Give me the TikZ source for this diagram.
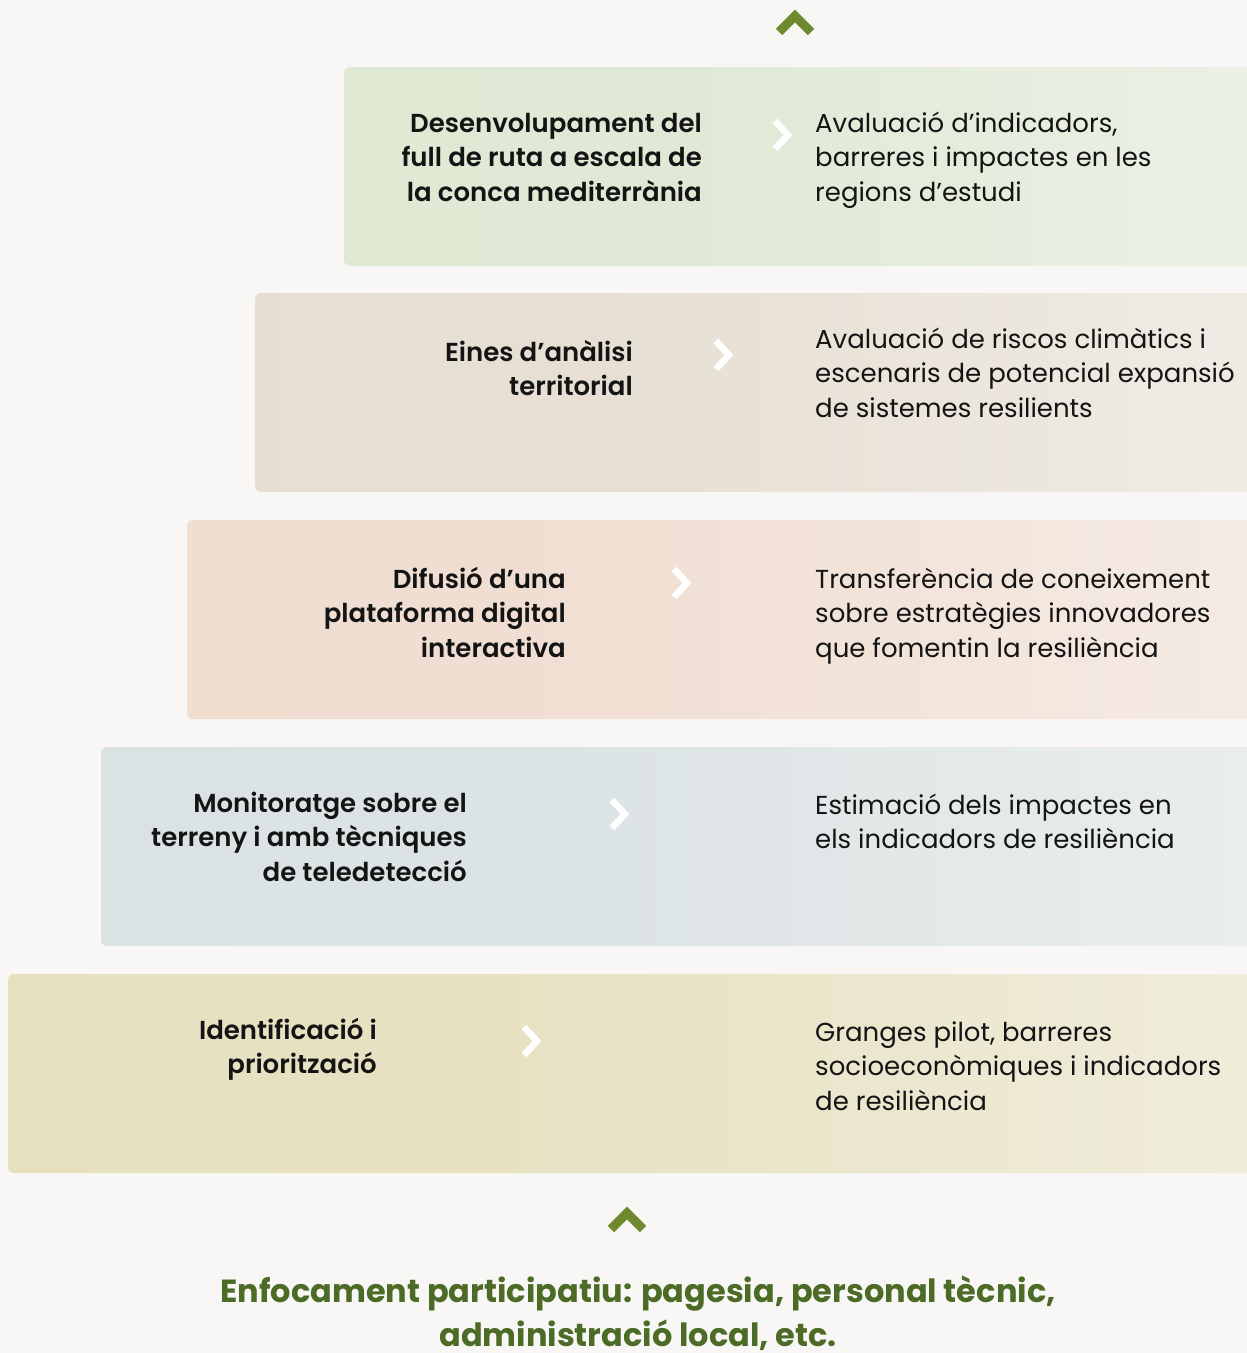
\documentclass[tikz,border=0pt]{standalone}
\usepackage{fontspec}
\setmainfont{Poppins}[BoldFont={Poppins SemiBold}]
\newfontfamily\heavyfont{Poppins}
\definecolor{bgc}{HTML}{F8F7F5}
\definecolor{bandA}{HTML}{DDE8D2}
\definecolor{bandB}{HTML}{E5DDD0}
\definecolor{bandC}{HTML}{F0DCCF}
\definecolor{bandD}{HTML}{D9E1E3}
\definecolor{bandE}{HTML}{E5DFBC}
\definecolor{olive}{HTML}{6F8A2E}
\definecolor{darkgreen}{HTML}{4B6B26}
\definecolor{txt}{HTML}{141414}
\pgfdeclarehorizontalshading{shA}{100bp}{color(0bp)=(bandA); color(45bp)=(bandA!90!bgc); color(100bp)=(bandA!8!bgc)}
\pgfdeclarehorizontalshading{shB}{100bp}{color(0bp)=(bandB); color(45bp)=(bandB!90!bgc); color(100bp)=(bandB!8!bgc)}
\pgfdeclarehorizontalshading{shC}{100bp}{color(0bp)=(bandC); color(45bp)=(bandC!90!bgc); color(100bp)=(bandC!8!bgc)}
\pgfdeclarehorizontalshading{shD}{100bp}{color(0bp)=(bandD); color(45bp)=(bandD!90!bgc); color(100bp)=(bandD!8!bgc)}
\pgfdeclarehorizontalshading{shE}{100bp}{color(0bp)=(bandE); color(45bp)=(bandE!90!bgc); color(100bp)=(bandE!8!bgc)}
\tikzset{
  chev/.style={draw=white, line width=6.5pt, miter limit=10, line join=miter},
  upchev/.style={draw=olive, line width=9pt, line join=miter},
  band/.style={rounded corners=6pt},
  lefttxt/.style={font=\fontsize{26}{34.5}\selectfont\bfseries, align=right, inner sep=0pt, anchor=base east, text=txt},
  righttxt/.style={font=\fontsize{26}{34.5}\selectfont, align=left, inner sep=0pt, anchor=base west, text=txt},
  bottxt/.style={font=\fontsize{32}{44}\selectfont\heavyfont\bfseries, align=center, inner sep=0pt, anchor=base, text=darkgreen}
}
\begin{document}
\begin{tikzpicture}[x=1pt,y=-1pt]
\useasboundingbox (0,0) rectangle (1247,1353);
\fill[bgc] (0,0) rectangle (1247,1353);
\begin{scope}
\clip (0,0) rectangle (1247,1353);
\shade[band, shading=shA] (344,67) rectangle (1262,266);
\shade[band, shading=shB] (255,293) rectangle (1262,492);
\shade[band, shading=shC] (187,520) rectangle (1262,719);
\shade[band, shading=shD] (101,747) rectangle (1262,946);
\shade[band, shading=shE] (8,974) rectangle (1262,1173);
\end{scope}
% up chevrons
\draw[upchev] (779,32) -- (795,16) -- (811,32);
\draw[upchev] (611,1229) -- (627,1213) -- (643,1229);
% white chevrons
\draw[chev] (775,121) -- (788,135) -- (775,149);
\draw[chev] (716,341) -- (729,355) -- (716,369);
\draw[chev] (674,569) -- (687,583) -- (674,597);
\draw[chev] (612,800) -- (625,814) -- (612,828);
\draw[chev] (524,1027) -- (537,1041) -- (524,1055);
% texts (anchored at the baseline of the last line)
\node[lefttxt] (l1) at (702,201) {Desenvolupament del\\full de ruta a escala de\\la conca mediterrània};
\node[righttxt] (r1) at (815,201) {Avaluació d’indicadors,\\barreres i impactes en les\\regions d’estudi};
\node[lefttxt] (l2) at (633,395.5) {Eines d’anàlisi\\territorial};
\node[righttxt] (r2) at (815,417) {Avaluació de riscos climàtics i\\escenaris de potencial expansió\\de sistemes resilients};
\node[lefttxt] (l3) at (566,657) {Difusió d’una\\plataforma digital\\interactiva};
\node[righttxt] (r3) at (815,657) {Transferència de coneixement\\sobre estratègies innovadores\\que fomentin la resiliència};
\node[lefttxt] (l4) at (467,881) {Monitoratge sobre el\\terreny i amb tècniques\\de teledetecció};
\node[righttxt] (r4) at (815,848.5) {Estimació dels impactes en\\els indicadors de resiliència};
\node[lefttxt] (l5) at (377,1073.5) {Identificació i\\priorització};
\node[righttxt] (r5) at (815,1110) {Granges pilot, barreres\\socioeconòmiques i indicadors\\de resiliència};
\node[bottxt] (b) at (638,1346) {Enfocament participatiu: pagesia, personal tècnic,\\administració local, etc.};
\end{tikzpicture}
\end{document}
